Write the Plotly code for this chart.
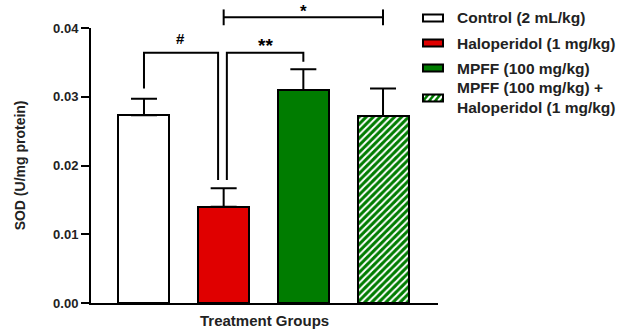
import plotly.graph_objects as go

# ---------------- data ----------------
groups = ["Control (2 mL/kg)", "Haloperidol (1 mg/kg)", "MPFF (100 mg/kg)",
          "MPFF (100 mg/kg) +<br>Haloperidol (1 mg/kg)"]
means = [0.0273, 0.0140, 0.0310, 0.0272]
sem = [0.0024, 0.0027, 0.0030, 0.0040]
colors = ["#ffffff", "#e00000", "#007c00", "#007c00"]
hatched = [False, False, False, True]
y_ticks = [0.00, 0.01, 0.02, 0.03, 0.04]
y_tick_labels = ["0.00", "0.01", "0.02", "0.03", "0.04"]

FONT = "Liberation Sans, Arial, sans-serif"
pos = list(range(len(means)))
X_RANGE = [-0.665, 3.69]
Y_RANGE = [0, 0.04]

fig = go.Figure()
for i in pos:
    marker = dict(color=colors[i], line=dict(color="black", width=2))
    if hatched[i]:
        marker["pattern"] = dict(shape="/", fgcolor="white", bgcolor=colors[i],
                                 size=5, solidity=0.4, fillmode="replace")
    fig.add_trace(go.Bar(
        x=[pos[i]], y=[means[i]], width=0.64, marker=marker,
        error_y=dict(type="data", array=[sem[i]], arrayminus=[0], symmetric=False,
                     color="black", thickness=2, width=13),
        showlegend=False, hoverinfo="skip"))

# data -> paper helpers (for marks drawn above the plot area)
def dx(v):
    return (v - X_RANGE[0]) / (X_RANGE[1] - X_RANGE[0])
def dy(v):
    return (v - Y_RANGE[0]) / (Y_RANGE[1] - Y_RANGE[0])

# significance brackets (x in category units, y in data units)
brackets = [
    [(0, 0.0312), (0, 0.0364), (0.93, 0.0364), (0.93, 0.0179)],
    [(1.04, 0.0179), (1.04, 0.0364), (2.0, 0.0364), (2.0, 0.0351)],
    [(1.0, 0.04155), (3.0, 0.04155)],
    [(1.0, 0.0404), (1.0, 0.0427)],
    [(3.0, 0.0404), (3.0, 0.0427)],
]
shapes = []
for pts in brackets:
    path = "M " + " L ".join(f"{dx(px)},{dy(py)}" for px, py in pts)
    shapes.append(dict(type="path", xref="paper", yref="paper", path=path,
                       line=dict(color="black", width=2), layer="above"))

sig = [("#", 0.46, 0.0385, 15), ("**", 1.52, 0.0375, 19), ("*", 2.0, 0.04245, 17)]
annotations = []
for txt, ax_, ay_, fs in sig:
    annotations.append(dict(x=dx(ax_), y=dy(ay_), xref="paper", yref="paper", text=txt,
                            showarrow=False,
                            font=dict(family=FONT, size=fs, color="black", weight="bold"),
                            xanchor="center", yanchor="middle"))

# axis titles
annotations.append(dict(x=0.5, y=-0.062, xref="paper", yref="paper", text="Treatment Groups",
                        showarrow=False, xanchor="center", yanchor="middle",
                        font=dict(family=FONT, size=15, color="#222", weight="bold")))
annotations.append(dict(x=-0.205, y=0.5, xref="paper", yref="paper", text="SOD (U/mg protein)",
                        showarrow=False, textangle=-90, xanchor="center", yanchor="middle",
                        font=dict(family=FONT, size=14, color="#222", weight="bold")))

# manual legend
PW, PH, L, B = 347.0, 275.0, 91.0, 303.0
def px_x(v):
    return (v - L) / PW
def px_y(v):
    return (B - v) / PH

row_y = [18, 43, 68, 98]
for i, ry in enumerate(row_y):
    x0, x1 = px_x(423), px_x(443)
    y0, y1 = px_y(ry + 3.5), px_y(ry - 3.5)
    shapes.append(dict(type="rect", xref="paper", yref="paper", x0=x0, x1=x1, y0=y0, y1=y1,
                       fillcolor=colors[i], line=dict(width=0), layer="above"))
    if hatched[i]:
        for sx in [425, 431, 437, 443]:
            shapes.append(dict(type="line", xref="paper", yref="paper",
                               x0=px_x(sx - 5), y0=px_y(ry + 3), x1=px_x(sx), y1=px_y(ry - 3),
                               line=dict(color="white", width=2), layer="above"))
    shapes.append(dict(type="rect", xref="paper", yref="paper", x0=x0, x1=x1, y0=y0, y1=y1,
                       fillcolor="rgba(0,0,0,0)", line=dict(color="black", width=2), layer="above"))
    annotations.append(dict(x=px_x(455), y=px_y(ry), xref="paper", yref="paper", text=groups[i],
                            showarrow=False, xanchor="left", yanchor="middle", align="left",
                            font=dict(family=FONT, size=15.5, color="#222", weight="bold")))

fig.update_layout(
    width=628, height=329,
    margin=dict(l=91, r=190, t=28, b=26),
    plot_bgcolor="white", paper_bgcolor="white",
    bargap=0, showlegend=False,
    annotations=annotations, shapes=shapes,
    xaxis=dict(range=X_RANGE, showticklabels=False, ticks="", showgrid=False,
               zeroline=False, showline=True, linecolor="black", linewidth=2, fixedrange=True),
    yaxis=dict(range=Y_RANGE, tickvals=y_ticks, ticktext=y_tick_labels, ticks="outside",
               ticklen=8, tickwidth=2, tickcolor="black", showgrid=False, zeroline=False,
               showline=True, linecolor="black", linewidth=2,
               tickfont=dict(family=FONT, size=13, color="#222", weight="bold")),
)

fig.write_html("out.html", config={"displayModeBar": False},
               post_script="document.body.style.margin='0';document.body.style.padding='0';")
